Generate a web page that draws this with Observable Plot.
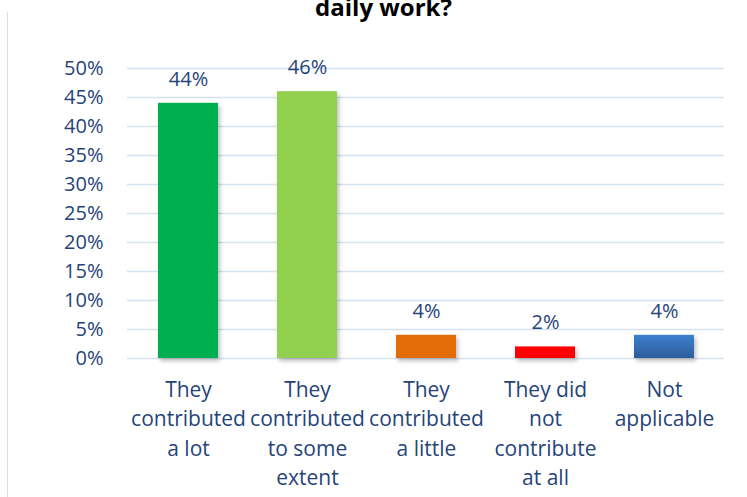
<!DOCTYPE html>
<html>
<head>
<meta charset="utf-8">
<script src="https://cdn.jsdelivr.net/npm/d3@7"></script>
<script src="https://cdn.jsdelivr.net/npm/@observablehq/plot@0.6"></script>
<style>
  html, body { margin: 0; padding: 0; background: #fff; }
  #wrap { position: relative; width: 747px; height: 497px; overflow: hidden; }
  #title { position: absolute; left: 0; width: 747px; top: -10px; text-align: center;
           font-family: "Open Sans", sans-serif; font-weight: 700; font-size: 24px; color: #000; padding-left: 20px; box-sizing: border-box; }
  #border { position: absolute; left: 7px; top: 12px; width: 0; height: 490px; border-left: 1.5px solid #D6E2F0; }
  #chart { position: absolute; left: 0; top: 0; }
  .bar rect { filter: drop-shadow(2px 3px 2px rgba(0,0,0,0.25)); }
</style>
</head>
<body>
<div id="wrap">
  <div id="border"></div>
  <div id="chart"></div>
  <div id="title">daily work?</div>
</div>
<script>
const categories = ["They contributed a lot", "They contributed to some extent", "They contributed a little", "They did not contribute at all", "Not applicable"];
const axisLabels = ["They\ncontributed\na lot", "They\ncontributed\nto some\nextent", "They\ncontributed\na little", "They did\nnot\ncontribute\nat all", "Not\napplicable"];
const values = [44, 46, 4, 2, 4];
const valueLabels = ["44%", "46%", "4%", "2%", "4%"];
const barColors = ["#00B050", "#92D050", "#E36C09", "#FF0000", "url(#blueGrad)"];
const yTicks = [0, 5, 10, 15, 20, 25, 30, 35, 40, 45, 50];
const yTickLabels = ["0%", "5%", "10%", "15%", "20%", "25%", "30%", "35%", "40%", "45%", "50%"];

const data = categories.map((c, i) => ({c, v: values[i], label: valueLabels[i], axis: axisLabels[i], color: barColors[i]}));
const textColor = "#264478";

const chart = Plot.plot({
  width: 747, height: 497,
  marginTop: 68, marginBottom: 139, marginLeft: 127, marginRight: 23,
  x: {domain: categories, paddingInner: 0.5, paddingOuter: 0.25, axis: null},
  y: {domain: [0, 50], axis: null},
  color: {type: "identity"},
  style: {fontFamily: "'Open Sans', sans-serif", fontSize: "20px", color: textColor, background: "transparent", overflow: "visible"},
  marks: [
    Plot.gridY(yTicks, {stroke: "#D6E2F0", strokeOpacity: 1, strokeWidth: 1.5}),
    Plot.axisY(yTicks, {tickSize: 0, tickPadding: 24, tickFormat: (d) => yTickLabels[yTicks.indexOf(d)], fontSize: 20, fill: textColor, label: null}),
    Plot.barY(data, {x: "c", y: "v", fill: "color", className: "bar"}),
    Plot.text(data, {x: "c", y: "v", text: "label", dy: -24, fontSize: 20, fill: textColor}),
    Plot.text(data, {x: "c", y: () => 0, text: "axis", lineAnchor: "top", dy: 18, lineHeight: 1.39, fontSize: 21, fill: textColor})
  ]
});

const defs = d3.select(chart).insert("defs", ":first-child");
const g = defs.append("linearGradient").attr("id", "blueGrad").attr("x1", 0).attr("y1", 0).attr("x2", 0).attr("y2", 1);
g.append("stop").attr("offset", "0%").attr("stop-color", "#3D80CF");
g.append("stop").attr("offset", "100%").attr("stop-color", "#2E5C9A");

document.getElementById("chart").appendChild(chart);
</script>
</body>
</html>
